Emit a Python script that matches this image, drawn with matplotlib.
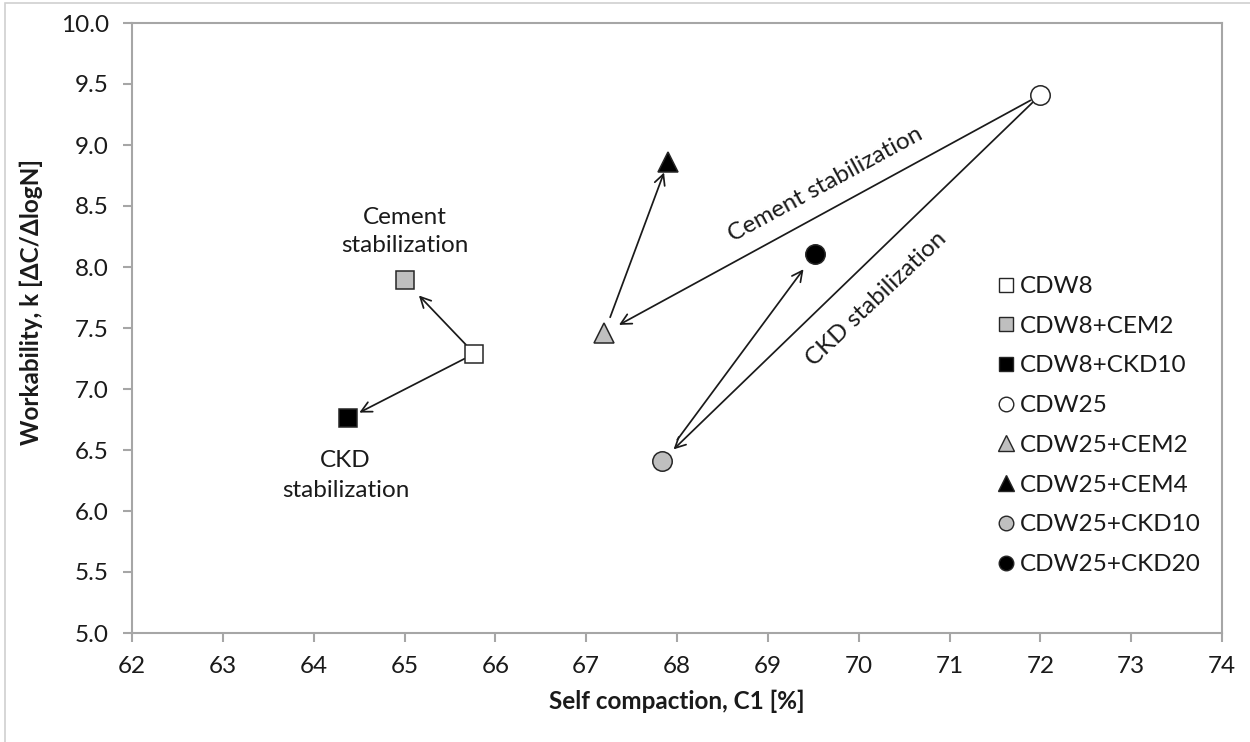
import matplotlib
matplotlib.use("Agg")
import matplotlib.pyplot as plt
from matplotlib.lines import Line2D
from matplotlib.patches import Rectangle

plt.rcParams['font.family'] = ['Lato', 'DejaVu Sans']

# Data: self compaction C1 [%] and workability k
labels = ['CDW8', 'CDW8+CEM2', 'CDW8+CKD10', 'CDW25',
          'CDW25+CEM2', 'CDW25+CEM4', 'CDW25+CKD10', 'CDW25+CKD20']
c1 = [65.77, 65.0, 64.38, 72.0, 67.2, 67.9, 67.83, 69.52]
k = [7.29, 7.89, 6.76, 9.41, 7.46, 8.86, 6.41, 8.11]
markers = ['s', 's', 's', 'o', '^', '^', 'o', 'o']
fills = ['white', '#bfbfbf', 'black', 'white', '#bfbfbf', 'black', '#bfbfbf', 'black']
sizes = [13, 13, 13, 14, 15, 15, 14, 14]

# arrows: (from index, to index, shrink at start, shrink at end) in points
arrows = [(0, 1, 9, 15), (0, 2, 8, 9),
          (3, 4, 8, 12), (4, 5, 12, 8),
          (3, 6, 8, 12), (6, 7, 19, 14)]

fig = plt.figure(figsize=(12.5, 7.42), dpi=100)
ax = fig.add_axes([132 / 1250, 1 - 633 / 742, 1090 / 1250, 610 / 742])

# light frame around the chart area
fig.patches.append(Rectangle((5 / 1250, -0.1), 1.2, 1.1 - 3 / 742,
                             transform=fig.transFigure, fill=False,
                             edgecolor='#d0d0d0', linewidth=1.2))

for a, b, sa, sb in arrows:
    ax.annotate('', xy=(c1[b], k[b]), xytext=(c1[a], k[a]),
                arrowprops=dict(arrowstyle='->,head_length=0.75,head_width=0.38',
                                color='#1a1a1a', lw=1.25,
                                shrinkA=sa, shrinkB=sb), zorder=2)

for i in range(len(labels)):
    ax.plot(c1[i], k[i], linestyle='none', marker=markers[i], ms=sizes[i],
            markerfacecolor=fills[i], markeredgecolor='#262626',
            markeredgewidth=1.1, zorder=3)

ax.set_xlim(62, 74)
ax.set_ylim(5, 10)
ax.set_xticks(range(62, 75))
ax.set_yticks([5 + 0.5 * i for i in range(11)])
ax.set_yticklabels([f'{5 + 0.5 * i:.1f}' for i in range(11)])

for s in ax.spines.values():
    s.set_color('#a6a6a6')
    s.set_linewidth(1.5)
ax.tick_params(direction='out', length=6.5, width=1.5, color='#a6a6a6',
               labelsize=17.5, pad=10, labelcolor='#1a1a1a')

ax.set_xlabel('Self compaction, C1 [%]', fontsize=17.5, fontweight='bold',
              labelpad=9, color='#1a1a1a')
fig.text(31 / 1250, 1 - 302 / 742, 'Workability, k [ΔC/ΔlogN]', rotation=90,
         ha='center', va='center', fontsize=17.5, fontweight='bold', color='#1a1a1a')

txt = dict(fontsize=17.5, color='#1a1a1a', ha='center', va='center')
ax.text(65.0, 8.29, 'Cement\nstabilization', linespacing=1.45, **txt)
ax.text(64.35, 6.29, 'CKD\nstabilization', linespacing=1.5, **txt)
ax.text(69.64, 8.68, 'Cement stabilization', rotation=28.5,
        rotation_mode='anchor', **txt)
ax.text(70.2, 7.74, 'CKD stabilization', rotation=43.5,
        rotation_mode='anchor', **txt)

handles = [Line2D([], [], linestyle='none', marker=markers[i], ms=sizes[i] * 0.75,
                  markerfacecolor=fills[i], markeredgecolor='#262626',
                  markeredgewidth=1.0) for i in range(len(labels))]
ax.legend(handles, labels, loc='upper left',
          bbox_to_anchor=(996 / 1250, 1 - 276 / 742),
          bbox_transform=fig.transFigure, frameon=False, fontsize=17.5,
          handlelength=0.8, handletextpad=0.2, labelspacing=0.77,
          borderpad=0, borderaxespad=0, labelcolor='#1a1a1a')

fig.savefig('out.png', dpi=100)
